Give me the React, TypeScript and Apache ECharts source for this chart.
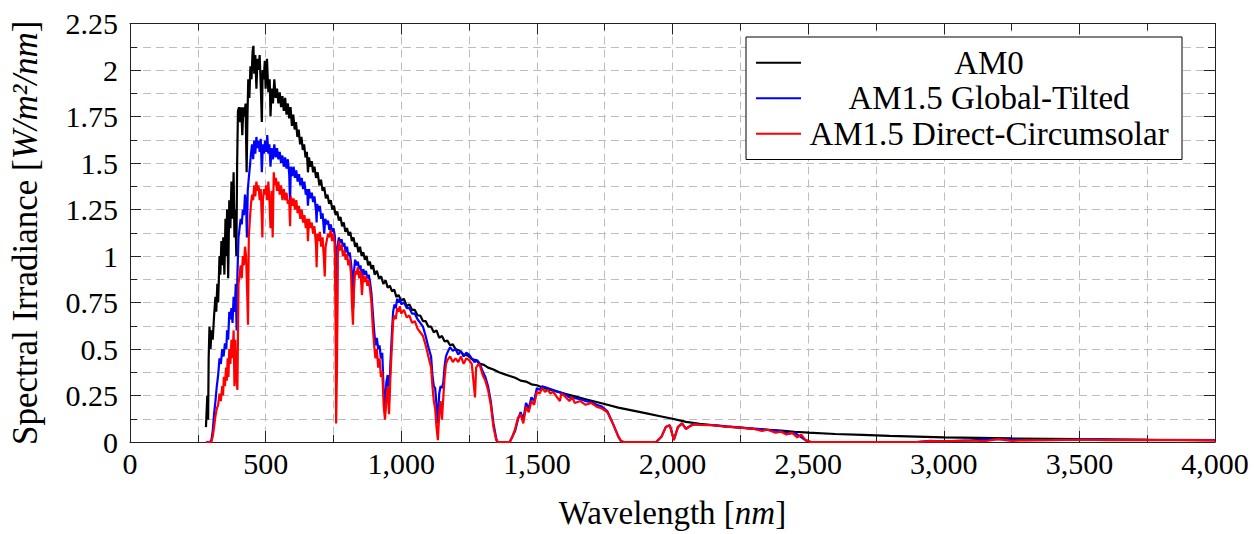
import React, { useEffect, useRef } from "react";
import * as echarts from "echarts";

const FONT = "Liberation Serif";

const seriesNames = ["AM0", "AM1.5 Global-Tilted", "AM1.5 Direct-Circumsolar"];
const seriesColors = ["#000000", "#0000ff", "#ff0000"];

const am0: [number, number][] = [
  [280, 0.08], [285, 0.25], [288, 0.12], [290, 0.45], [293, 0.62], [297, 0.5], [300, 0.6], [305, 0.55],
  [310, 0.68], [315, 0.78], [318, 0.7], [322, 0.85], [325, 0.75], [330, 1.0], [333, 0.9], [337, 1.08],
  [340, 0.95], [344, 1.1], [348, 0.9], [352, 1.2], [355, 1.0], [358, 1.25], [362, 0.88], [366, 1.3],
  [370, 1.15], [374, 1.4], [378, 1.2], [382, 1.45], [385, 1.1], [388, 1.25], [392, 1.0], [395, 1.5],
  [398, 1.78], [402, 1.8], [406, 1.72], [410, 1.8], [414, 1.65], [418, 1.8], [422, 1.75], [426, 1.82],
  [430, 1.45], [433, 1.75], [436, 1.95], [440, 1.85], [444, 2.02], [448, 1.95], [452, 2.1], [455, 2.13],
  [458, 1.98], [462, 2.08], [466, 1.9], [470, 2.06], [474, 2.0], [478, 2.08], [482, 1.92], [486, 1.72],
  [489, 2.0], [493, 1.95], [497, 2.05], [500, 1.9], [505, 2.06], [510, 1.88], [515, 1.95], [518, 1.75],
  [522, 1.9], [527, 1.82], [532, 1.95], [537, 1.85], [542, 1.9], [547, 1.82], [552, 1.88], [557, 1.8],
  [562, 1.86], [567, 1.78], [572, 1.85], [577, 1.76], [582, 1.82], [587, 1.74], [592, 1.8], [597, 1.7],
  [602, 1.76], [607, 1.68], [612, 1.72], [617, 1.64], [622, 1.68], [627, 1.6], [632, 1.64], [637, 1.57],
  [642, 1.6], [647, 1.53], [652, 1.56], [656, 1.45], [660, 1.53], [665, 1.48], [670, 1.51], [675, 1.45],
  [680, 1.48], [686, 1.42], [692, 1.45], [698, 1.38], [704, 1.41], [710, 1.35], [716, 1.37], [722, 1.31],
  [728, 1.33], [734, 1.28], [740, 1.3], [746, 1.25], [752, 1.27], [758, 1.22], [764, 1.24], [770, 1.19],
  [776, 1.21], [782, 1.16], [788, 1.18], [794, 1.13], [800, 1.15], [806, 1.11], [812, 1.13], [818, 1.08],
  [824, 1.1], [830, 1.05], [836, 1.07], [842, 1.02], [848, 1.05], [854, 1.0], [860, 1.02], [866, 0.98],
  [872, 1.0], [878, 0.95], [884, 0.97], [890, 0.93], [896, 0.95], [902, 0.9], [910, 0.92], [918, 0.88],
  [926, 0.89], [934, 0.85], [942, 0.87], [950, 0.83], [958, 0.84], [966, 0.81], [974, 0.82], [982, 0.78],
  [990, 0.79], [1000, 0.76], [1010, 0.77], [1020, 0.73], [1030, 0.74], [1040, 0.71], [1050, 0.71],
  [1060, 0.68], [1070, 0.68], [1080, 0.65], [1090, 0.65], [1100, 0.62], [1110, 0.62], [1120, 0.59],
  [1130, 0.6], [1140, 0.56], [1150, 0.57], [1160, 0.54], [1170, 0.545], [1180, 0.52], [1190, 0.525],
  [1200, 0.5], [1215, 0.49], [1230, 0.47], [1245, 0.465], [1260, 0.445], [1275, 0.44], [1290, 0.42],
  [1305, 0.415], [1320, 0.4], [1340, 0.39], [1360, 0.375], [1380, 0.365], [1400, 0.355], [1420, 0.345],
  [1440, 0.33], [1460, 0.325], [1480, 0.31], [1500, 0.305], [1525, 0.29], [1550, 0.28], [1575, 0.27],
  [1600, 0.26], [1640, 0.245], [1680, 0.23], [1720, 0.215], [1760, 0.2], [1800, 0.185], [1850, 0.17],
  [1900, 0.155], [1950, 0.14], [2000, 0.125], [2050, 0.108], [2100, 0.098], [2150, 0.09], [2200, 0.083],
  [2250, 0.077], [2300, 0.071], [2350, 0.066], [2400, 0.061], [2450, 0.055], [2500, 0.05], [2600, 0.043],
  [2700, 0.038], [2800, 0.033], [2900, 0.029], [3000, 0.025], [3250, 0.019], [3500, 0.015], [3750, 0.012],
  [4000, 0.01],
];

const am15Global: [number, number][] = [
  [280, 0], [295, 0], [300, 0.01], [305, 0.06], [310, 0.15], [315, 0.22], [320, 0.3], [325, 0.36],
  [330, 0.45], [335, 0.42], [340, 0.5], [345, 0.46], [350, 0.53], [355, 0.5], [358, 0.6], [362, 0.55],
  [366, 0.7], [370, 0.66], [374, 0.72], [378, 0.64], [382, 0.78], [386, 0.7], [390, 0.85], [393, 0.6],
  [396, 0.9], [400, 1.1], [404, 1.15], [408, 1.2], [412, 1.17], [416, 1.25], [420, 1.22], [424, 1.33],
  [428, 1.28], [431, 1.1], [434, 1.35], [438, 1.42], [442, 1.48], [446, 1.55], [450, 1.6], [454, 1.52],
  [458, 1.62], [462, 1.55], [466, 1.64], [470, 1.58], [474, 1.62], [478, 1.56], [482, 1.63], [486, 1.45],
  [490, 1.6], [494, 1.55], [498, 1.62], [502, 1.56], [506, 1.65], [510, 1.55], [514, 1.6], [518, 1.48],
  [522, 1.58], [527, 1.52], [532, 1.6], [537, 1.53], [542, 1.58], [547, 1.52], [552, 1.56], [557, 1.5],
  [562, 1.54], [567, 1.48], [572, 1.53], [577, 1.47], [582, 1.52], [587, 1.44], [590, 1.28], [593, 1.48],
  [598, 1.43], [603, 1.48], [608, 1.42], [613, 1.46], [618, 1.4], [623, 1.44], [628, 1.38], [633, 1.42],
  [638, 1.36], [643, 1.4], [648, 1.33], [653, 1.36], [656, 1.27], [660, 1.36], [665, 1.31], [670, 1.34],
  [675, 1.29], [680, 1.32], [686, 1.24], [688, 1.18], [690, 1.28], [695, 1.24], [700, 1.27], [705, 1.2],
  [710, 1.23], [716, 1.12], [720, 1.2], [725, 1.17], [730, 1.19], [735, 1.14], [740, 1.17], [745, 1.13],
  [750, 1.15], [755, 1.11], [759, 0.95], [762, 0.35], [765, 1.05], [770, 1.1], [775, 1.07], [780, 1.09],
  [785, 1.05], [790, 1.07], [795, 1.02], [800, 1.05], [805, 1.0], [810, 1.02], [815, 0.96], [820, 0.88],
  [823, 0.72], [826, 0.92], [830, 0.98], [835, 0.95], [840, 0.97], [845, 0.93], [850, 0.95], [855, 0.85],
  [860, 0.93], [865, 0.9], [870, 0.92], [875, 0.88], [880, 0.9], [885, 0.86], [890, 0.8], [895, 0.7],
  [900, 0.6], [905, 0.52], [910, 0.56], [915, 0.5], [920, 0.52], [925, 0.45], [930, 0.48], [935, 0.28],
  [940, 0.17], [945, 0.32], [950, 0.36], [955, 0.22], [960, 0.42], [965, 0.57], [970, 0.7], [975, 0.74],
  [980, 0.72], [985, 0.77], [990, 0.75], [995, 0.77], [1000, 0.74], [1010, 0.75], [1020, 0.72],
  [1030, 0.72], [1040, 0.69], [1050, 0.69], [1060, 0.66], [1070, 0.64], [1080, 0.62], [1090, 0.57],
  [1100, 0.51], [1110, 0.46], [1115, 0.36], [1120, 0.3], [1125, 0.29], [1130, 0.2], [1135, 0.1],
  [1140, 0.26], [1145, 0.3], [1150, 0.29], [1155, 0.32], [1160, 0.41], [1165, 0.46], [1170, 0.48],
  [1180, 0.51], [1190, 0.49], [1200, 0.5], [1210, 0.47], [1220, 0.49], [1230, 0.46], [1240, 0.48],
  [1250, 0.47], [1260, 0.45], [1270, 0.43], [1280, 0.44], [1290, 0.42], [1300, 0.38], [1310, 0.35],
  [1320, 0.3], [1330, 0.22], [1340, 0.1], [1350, 0.02], [1355, 0], [1400, 0], [1410, 0.03], [1420, 0.06],
  [1430, 0.12], [1440, 0.16], [1450, 0.12], [1460, 0.21], [1470, 0.18], [1480, 0.24], [1490, 0.22],
  [1500, 0.29], [1510, 0.28], [1520, 0.3], [1540, 0.29], [1560, 0.28], [1580, 0.27], [1600, 0.26],
  [1620, 0.24], [1640, 0.235], [1660, 0.23], [1680, 0.22], [1700, 0.215], [1720, 0.2], [1740, 0.19],
  [1760, 0.165], [1780, 0.1], [1800, 0.03], [1810, 0.005], [1820, 0], [1940, 0], [1960, 0.03],
  [1975, 0.08], [1990, 0.09], [2005, 0.012], [2020, 0.08], [2035, 0.1], [2050, 0.072], [2065, 0.087],
  [2080, 0.096], [2100, 0.094], [2150, 0.091], [2200, 0.084], [2250, 0.078], [2300, 0.072], [2350, 0.066],
  [2400, 0.057], [2430, 0.045], [2450, 0.05], [2470, 0.03], [2490, 0.01], [2510, 0], [2900, 0],
  [2950, 0.006], [3000, 0.004], [3100, 0.009], [3200, 0.016], [3300, 0.01], [3400, 0.011], [3500, 0.013],
  [3700, 0.012], [4000, 0.01],
];

const am15Direct: [number, number][] = [
  [280, 0], [295, 0], [300, 0], [305, 0.03], [310, 0.08], [315, 0.14], [320, 0.18], [325, 0.2],
  [330, 0.26], [335, 0.22], [340, 0.3], [343, 0.25], [346, 0.35], [350, 0.3], [354, 0.4], [357, 0.33],
  [360, 0.45], [363, 0.35], [366, 0.5], [370, 0.42], [374, 0.55], [378, 0.45], [382, 0.6], [385, 0.3],
  [388, 0.55], [392, 0.35], [396, 0.28], [400, 0.85], [404, 0.9], [408, 0.95], [412, 0.88], [416, 1.0],
  [420, 0.95], [424, 1.05], [428, 1.0], [432, 0.8], [435, 0.63], [438, 1.1], [442, 1.2], [446, 1.28],
  [450, 1.33], [454, 1.3], [458, 1.38], [462, 1.32], [466, 1.4], [470, 1.35], [474, 1.38], [478, 1.3],
  [482, 1.36], [486, 1.2], [488, 1.1], [490, 1.3], [494, 1.36], [498, 1.33], [502, 1.38], [506, 1.3],
  [510, 1.4], [514, 1.3], [518, 1.15], [522, 1.35], [526, 1.1], [530, 1.45], [534, 1.38], [538, 1.42],
  [542, 1.35], [547, 1.4], [552, 1.33], [557, 1.38], [562, 1.3], [567, 1.36], [572, 1.3], [577, 1.34],
  [582, 1.28], [587, 1.3], [590, 1.16], [593, 1.32], [598, 1.27], [603, 1.31], [608, 1.25], [613, 1.3],
  [618, 1.23], [623, 1.27], [628, 1.2], [633, 1.25], [638, 1.18], [643, 1.22], [648, 1.15], [653, 1.2],
  [656, 1.08], [660, 1.2], [665, 1.15], [670, 1.18], [675, 1.12], [680, 1.16], [686, 1.05], [688, 0.94],
  [691, 1.12], [695, 1.08], [700, 1.13], [705, 1.05], [710, 1.1], [715, 0.98], [718, 0.89], [721, 1.05],
  [725, 1.08], [730, 1.12], [735, 1.1], [740, 1.14], [745, 1.08], [750, 1.12], [755, 1.06], [758, 0.6],
  [760, 0.1], [763, 0.4], [766, 1.0], [770, 1.08], [775, 1.03], [780, 1.06], [785, 1.0], [790, 1.03],
  [795, 0.98], [800, 1.01], [805, 0.95], [810, 0.98], [815, 0.9], [818, 0.75], [822, 0.63], [825, 0.8],
  [830, 0.92], [835, 0.9], [840, 0.94], [845, 0.88], [850, 0.92], [855, 0.79], [860, 0.9], [865, 0.86],
  [870, 0.89], [875, 0.84], [880, 0.87], [885, 0.82], [890, 0.75], [895, 0.62], [900, 0.52], [905, 0.45],
  [910, 0.5], [915, 0.4], [920, 0.45], [925, 0.35], [930, 0.38], [935, 0.2], [940, 0.12], [945, 0.22],
  [950, 0.3], [955, 0.15], [960, 0.35], [965, 0.5], [970, 0.65], [975, 0.68], [980, 0.66], [985, 0.72],
  [990, 0.7], [995, 0.73], [1000, 0.69], [1010, 0.71], [1020, 0.67], [1030, 0.68], [1040, 0.64],
  [1050, 0.65], [1060, 0.61], [1070, 0.59], [1080, 0.57], [1090, 0.52], [1100, 0.46], [1110, 0.4],
  [1115, 0.3], [1120, 0.22], [1125, 0.18], [1130, 0.08], [1135, 0.01], [1140, 0.15], [1145, 0.22],
  [1150, 0.12], [1155, 0.24], [1160, 0.35], [1165, 0.42], [1170, 0.44], [1180, 0.46], [1190, 0.43],
  [1200, 0.45], [1210, 0.43], [1220, 0.46], [1230, 0.42], [1240, 0.45], [1250, 0.44], [1260, 0.42],
  [1268, 0.3], [1272, 0.24], [1276, 0.4], [1285, 0.42], [1290, 0.41], [1300, 0.36], [1310, 0.33],
  [1320, 0.28], [1330, 0.2], [1340, 0.08], [1350, 0.01], [1355, 0], [1400, 0], [1410, 0.03], [1420, 0.07],
  [1430, 0.13], [1440, 0.15], [1450, 0.1], [1460, 0.19], [1470, 0.16], [1480, 0.22], [1490, 0.2],
  [1500, 0.27], [1510, 0.26], [1520, 0.29], [1530, 0.27], [1540, 0.28], [1550, 0.26], [1560, 0.27],
  [1570, 0.25], [1585, 0.22], [1590, 0.26], [1600, 0.25], [1620, 0.22], [1630, 0.24], [1640, 0.21],
  [1660, 0.22], [1680, 0.2], [1700, 0.21], [1720, 0.19], [1740, 0.18], [1760, 0.16], [1780, 0.1],
  [1800, 0.03], [1810, 0.005], [1820, 0], [1940, 0], [1960, 0.03], [1975, 0.08], [1990, 0.09],
  [2005, 0.01], [2020, 0.08], [2035, 0.1], [2050, 0.07], [2065, 0.085], [2080, 0.095], [2100, 0.092],
  [2150, 0.09], [2200, 0.082], [2250, 0.077], [2300, 0.07], [2330, 0.06], [2350, 0.066], [2380, 0.05],
  [2400, 0.055], [2420, 0.04], [2440, 0.05], [2460, 0.025], [2475, 0.04], [2490, 0.01], [2510, 0],
  [2900, 0], [2950, 0.005], [3000, 0.003], [3100, 0.008], [3150, 0.004], [3200, 0.015], [3250, 0.006],
  [3300, 0.009], [3400, 0.01], [3500, 0.012], [3600, 0.01], [3700, 0.011], [3800, 0.01], [3900, 0.01],
  [4000, 0.009],
];

const xMin = 0;
const xMax = 4000;
const xInterval = 500;
const yMin = 0;
const yMax = 2.25;
const yInterval = 0.25;

const gridLine = { color: "#bdbdbd", width: 1, type: [8, 5] as number[] };
const frameColor = "#222222";

function withCommas(v: number): string {
  return String(v).replace(/\B(?=(\d{3})+(?!\d))/g, ",");
}

export default function App() {
  const ref = useRef<HTMLDivElement>(null);

  useEffect(() => {
    if (!ref.current) return;
    const chart = echarts.init(ref.current, undefined, { renderer: "svg" });

    const baseX = {
      type: "value" as const,
      min: xMin,
      max: xMax,
      interval: xInterval,
      axisLine: { show: true, onZero: false, lineStyle: { color: frameColor, width: 1 } },
      axisTick: { show: true, inside: true, length: 11, lineStyle: { color: frameColor, width: 1 } },
      minorTick: { show: true, splitNumber: 2, length: 7, lineStyle: { color: frameColor, width: 1 } },
    };
    const baseY = {
      type: "value" as const,
      min: yMin,
      max: yMax,
      interval: yInterval,
      axisLine: { show: true, onZero: false, lineStyle: { color: frameColor, width: 1 } },
      axisTick: { show: true, inside: true, length: 11, lineStyle: { color: frameColor, width: 1 } },
      minorTick: { show: true, splitNumber: 2, length: 7, lineStyle: { color: frameColor, width: 1 } },
    };

    const option = {
      animation: false,
      backgroundColor: "#ffffff",
      grid: { left: 130, top: 23.5, width: 1085, height: 422, containLabel: false },
      legend: {
        show: true,
        orient: "vertical",
        left: 746,
        top: 37,
        padding: [8, 10, 8, 10],
        itemGap: 0,
        itemWidth: 45,
        itemHeight: 2,
        icon: "rect",
        borderColor: "#000000",
        borderWidth: 1,
        backgroundColor: "#ffffff",
        data: seriesNames,
        formatter: (n: string) => "{c|" + n + "}",
        textStyle: {
          fontFamily: FONT,
          fontSize: 33,
          color: "#000",
          lineHeight: 35.5,
          rich: {
            c: { width: 366, align: "center", fontFamily: FONT, fontSize: 33, lineHeight: 35.5, color: "#000" },
          },
        },
      },
      xAxis: [
        {
          ...baseX,
          position: "bottom",
          splitLine: { show: true, lineStyle: gridLine },
          minorSplitLine: { show: true, lineStyle: gridLine },
          axisLabel: {
            show: true,
            formatter: (v: number) => withCommas(v),
            fontFamily: FONT,
            fontSize: 30,
            color: "#000",
            margin: 6,
          },
          name: "Wavelength [{i|nm}]",
          nameLocation: "middle",
          nameGap: 54,
          nameTextStyle: {
            fontFamily: FONT,
            fontSize: 33,
            color: "#000",
            rich: { i: { fontFamily: FONT, fontSize: 33, fontStyle: "italic", color: "#000" } },
          },
        },
        {
          ...baseX,
          position: "top",
          splitLine: { show: false },
          minorSplitLine: { show: false },
          axisLabel: { show: false },
        },
      ],
      yAxis: [
        {
          ...baseY,
          position: "left",
          splitLine: { show: true, lineStyle: gridLine },
          minorSplitLine: { show: true, lineStyle: gridLine },
          axisLabel: { show: true, fontFamily: FONT, fontSize: 30, color: "#000", margin: 12 },
          name: "Spectral Irradiance [{i|W/m²/nm}]",
          nameLocation: "middle",
          nameGap: 87,
          nameTextStyle: {
            fontFamily: FONT,
            fontSize: 35,
            color: "#000",
            rich: { i: { fontFamily: FONT, fontSize: 35, fontStyle: "italic", color: "#000" } },
          },
        },
        {
          ...baseY,
          position: "right",
          splitLine: { show: false },
          minorSplitLine: { show: false },
          axisLabel: { show: false },
        },
      ],
      series: [am0, am15Global, am15Direct].map((data, i) => ({
        name: seriesNames[i],
        type: "line",
        xAxisIndex: 0,
        yAxisIndex: 0,
        data,
        showSymbol: false,
        symbol: "none",
        color: seriesColors[i],
        lineStyle: { color: seriesColors[i], width: 2.2 },
        z: 2 + i,
      })),
    };

    chart.setOption(option as any);
    return () => chart.dispose();
  }, []);

  return (
    <div
      ref={ref}
      style={{ position: "fixed", left: 0, top: 0, width: 1254, height: 534, background: "#fff" }}
    />
  );
}
